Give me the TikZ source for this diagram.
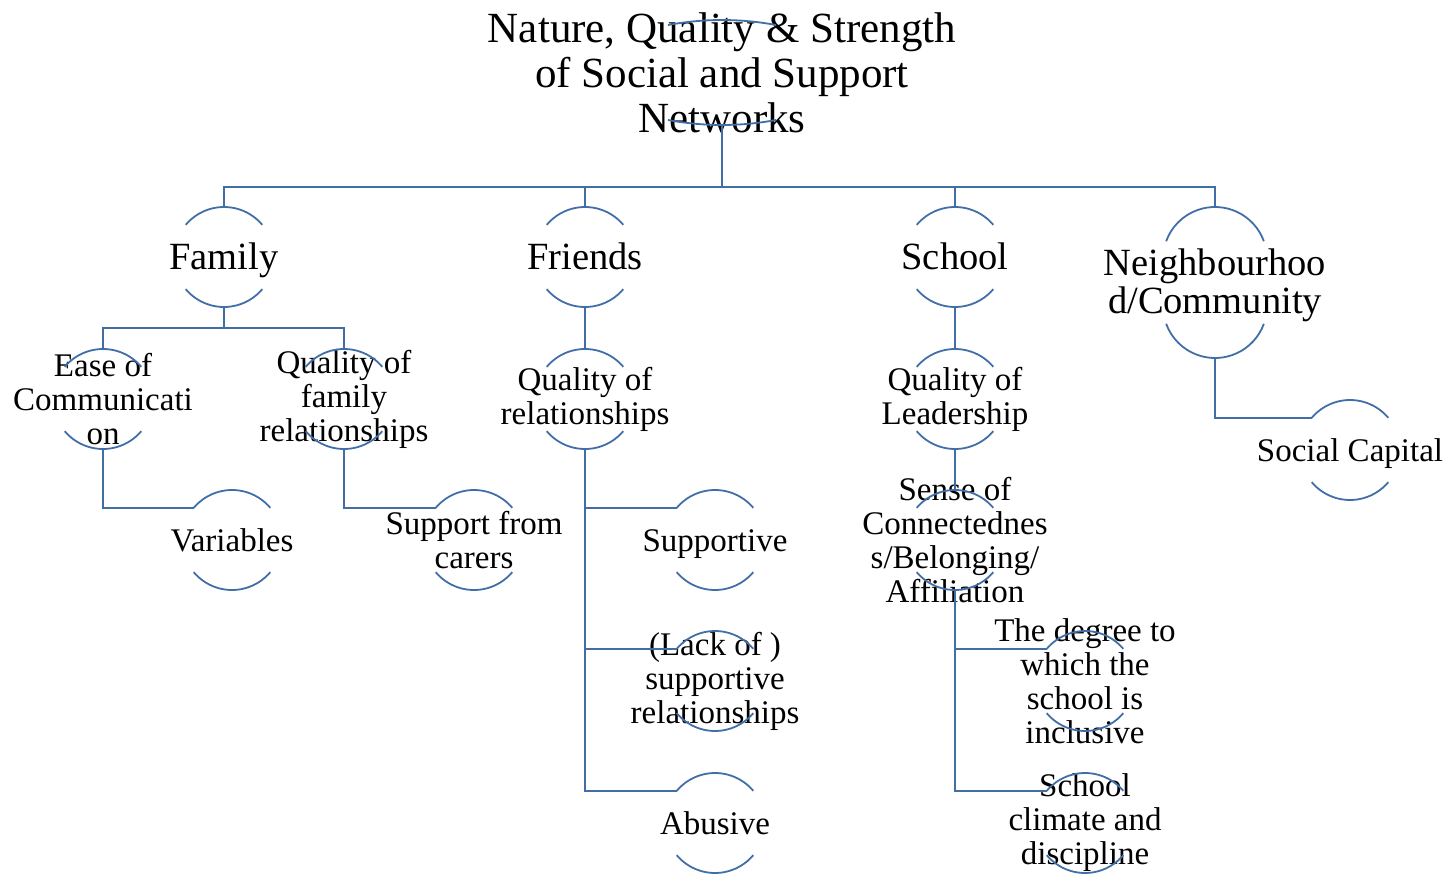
\documentclass[tikz,border=0pt]{standalone}
\usepackage{fontspec}
\setmainfont{Liberation Serif}
\usetikzlibrary{calc}

\definecolor{linkblue}{RGB}{66,110,168}

\begin{document}
\begin{tikzpicture}[x=1pt, y=-1pt]
        % Setup the styles for the bubbles, their texts and the links
        \tikzset{bubble/.style={circle, minimum size=100pt, inner sep=0pt, outer sep=0pt},
                 txt/.style={align=center, inner sep=0pt, font=\fontsize{33}{34}\selectfont},
                 big/.style={align=center, inner sep=0pt, font=\fontsize{38.5}{38}\selectfont},
                 head/.style={align=center, inner sep=0pt, font=\fontsize{43}{45}\selectfont},
                 line/.style={text height=31pt, text depth=8pt},
                 bigline/.style={text height=35pt, text depth=9pt},
                 link/.style={draw=linkblue, line width=1.8pt}}
        \useasboundingbox (0,0) rectangle (1450,874);

        % Draw the nodes
        \node[minimum height=105pt, inner sep=0pt, outer sep=0pt,
              label={[head]center:{Nature, Quality \& Strength\\of Social and Support\\Networks}}] at (722,72.5) (title) {};
        \node[bubble, label={[big, bigline]center:Family}]  at (224,257) (family)  {};
        \node[bubble, label={[big, bigline]center:Friends}] at (585,257) (friends) {};
        \node[bubble, label={[big, bigline]center:School}]  at (955,257) (school)  {};
        \node[minimum height=151pt, minimum width=116pt, inner sep=0pt, outer sep=0pt,
              label={[big, yshift=-3pt]center:{Neighbourhoo\\d/Community}}] at (1215,282.5) (neighbour) {};

        \node[bubble, label={[txt]center:{Ease of\\Communicati\\on}}]      at (103,399) (ease)    {};
        \node[bubble, label={[txt]center:{Quality of\\family\\relationships}}] at (344,399) (qualfam) {};
        \node[bubble, label={[txt, line]center:Variables}]                 at (232,540) (vars)    {};
        \node[bubble, label={[txt]center:{Support from\\carers}}]         at (474,540) (carers)  {};

        \node[bubble, label={[txt]center:{Quality of\\relationships}}]    at (585,399) (qualrel) {};
        \node[bubble, label={[txt, line]center:Supportive}]                at (715,540) (supp)    {};
        \node[bubble, label={[txt]center:{(Lack of )\\supportive\\relationships}}] at (715,681) (lack) {};
        \node[bubble, label={[txt, line]center:Abusive}]                   at (715,823) (abuse)   {};

        \node[bubble, label={[txt]center:{Quality of\\Leadership}}]       at (955,399) (lead)    {};
        \node[bubble, label={[txt]center:{Sense of\\Connectednes\\s/Belonging/\\Affiliation}}] at (955,540) (sense) {};
        \node[bubble, label={[txt]center:{The degree to\\which the\\school is\\inclusive}}] at (1085,681) (degree) {};
        \node[bubble, label={[txt]center:{School\\climate and\\discipline}}] at (1085,823) (climate) {};

        \node[bubble, label={[txt, line]center:Social Capital}]            at (1350,450) (social)  {};

        % Top and bottom rims of the bubbles
        \foreach \n in {family,friends,school,ease,qualfam,vars,carers,qualrel,supp,lack,abuse,lead,sense,degree,climate,social}
            \draw[link] (\n.40) arc[start angle=40, end angle=140, radius=50pt]
                        (\n.220) arc[start angle=220, end angle=320, radius=50pt];
        \draw[link] ($(title.north)+(0,-294pt)+(79.4:294pt)$) arc[start angle=79.4, end angle=100.6, radius=294pt]
                    ($(title.south)+(0,294pt)+(-79.4:294pt)$) arc[start angle=-79.4, end angle=-100.6, radius=294pt];
        \draw[link] ($(neighbour.north)+(0,-52pt)+(20:52pt)$) arc[start angle=20, end angle=160, radius=52pt]
                    ($(neighbour.south)+(0,52pt)+(-20:52pt)$) arc[start angle=-20, end angle=-160, radius=52pt];

        % Connect the nodes
        \coordinate (hub) at (722,187);
        \coordinate (famhub) at (224,328);
        \draw[link] (title.south) -- (hub);
        \foreach \c in {family,friends,school,neighbour}
            \draw[link] (hub) -| (\c.north);
        \draw[link] (family.south) -- (famhub);
        \draw[link] (famhub) -| (ease.north);
        \draw[link] (famhub) -| (qualfam.north);
        \draw[link] (ease.south) |- (vars.140);
        \draw[link] (qualfam.south) |- (carers.140);
        \draw[link] (friends.south) -- (qualrel.north);
        \draw[link] (qualrel.south) |- (supp.140);
        \draw[link] (qualrel.south) |- (lack.140);
        \draw[link] (qualrel.south) |- (abuse.140);
        \draw[link] (school.south) -- (lead.north);
        \draw[link] (lead.south) -- (sense.north);
        \draw[link] (sense.south) |- (degree.140);
        \draw[link] (sense.south) |- (climate.140);
        \draw[link] (neighbour.south) |- (social.140);
\end{tikzpicture}
\end{document}
